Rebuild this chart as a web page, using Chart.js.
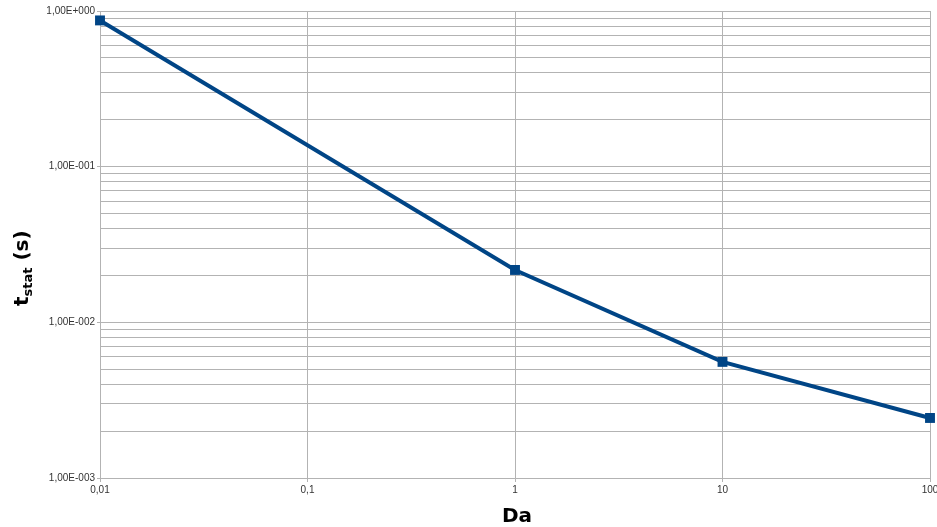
<!DOCTYPE html>
<html>
<head>
<meta charset="utf-8">
<script src="https://cdn.jsdelivr.net/npm/chart.js@4.4.0/dist/chart.umd.min.js"></script>
<style>
  html, body { margin: 0; padding: 0; background: #fff; overflow: hidden; }
  #wrap { width: 937px; height: 527px; }
</style>
</head>
<body>
<div id="wrap"><canvas id="myChart" width="937" height="527"></canvas></div>
<script>
// data
const daValues = [0.01, 1, 10, 100];
const tstatValues = [0.87, 0.0217, 0.00557, 0.00243];

// axis ticks
const xTickValues = [0.01, 0.1, 1, 10, 100];
const xTickLabels = ['0,01', '0,1', '1', '10', '100'];
const yDecades = [0.001, 0.01, 0.1, 1];
const yTickLabels = ['1,00E-003', '1,00E-002', '1,00E-001', '1,00E+000'];
const yMinorSteps = [2, 3, 4, 5, 6, 7, 8, 9];

const lineColor = '#004586';
const gridColor = '#b3b3b3';

// y gridlines: decades plus the 2..9 in between
const yGrid = [];
yDecades.forEach((d, i) => {
    yGrid.push({ value: d, major: true });
    if (i < yDecades.length - 1) {
        yMinorSteps.forEach(m => yGrid.push({ value: d * m, major: false }));
    }
});

const axisTitles = {
    id: 'axisTitles',
    afterDraw(chart) {
        const ctx = chart.ctx;
        ctx.save();
        ctx.fillStyle = '#000';
        ctx.textBaseline = 'alphabetic';

        // x title
        ctx.font = 'bold 20px "DejaVu Sans"';
        ctx.textAlign = 'center';
        ctx.fillText('Da', 517, 522);

        // y title, rotated, with subscript
        ctx.translate(28, 306);
        ctx.rotate(-Math.PI / 2);
        ctx.textAlign = 'left';
        ctx.font = 'bold 20px "DejaVu Sans"';
        ctx.fillText('t', 0, 0);
        let x = ctx.measureText('t').width;
        ctx.font = 'bold 13px "DejaVu Sans"';
        ctx.fillText('stat', x, 4);
        x += ctx.measureText('stat').width;
        ctx.font = 'bold 20px "DejaVu Sans"';
        ctx.fillText(' (s)', x, 0);
        ctx.restore();
    }
};

const ctx = document.getElementById('myChart').getContext('2d');
const First_chart = new Chart(ctx, {
    type: 'line',
    data: {
        datasets: [{
            label: 'tstat',
            data: daValues.map((v, i) => ({ x: v, y: tstatValues[i] })),
            borderColor: lineColor,
            backgroundColor: lineColor,
            borderWidth: 4,
            pointStyle: 'rect',
            pointRadius: 7,
            pointBorderWidth: 0,
            pointHoverRadius: 7,
            clip: false,
            tension: 0
        }]
    },
    options: {
        responsive: false,
        animation: false,
        events: [],
        layout: { padding: { top: 11, left: 0, right: 4, bottom: 0 } },
        plugins: {
            legend: { display: false },
            tooltip: { enabled: false }
        },
        scales: {
            x: {
                type: 'logarithmic',
                min: 0.01,
                max: 100,
                afterBuildTicks: scale => {
                    scale.ticks = xTickValues.map(v => ({ value: v, major: true }));
                },
                afterFit: scale => {
                    scale.height = 49;
                    scale.paddingLeft = 0;
                    scale.paddingRight = 0;
                },
                grid: { color: gridColor, tickColor: gridColor, tickLength: 4, lineWidth: 1 },
                border: { color: gridColor },
                ticks: {
                    autoSkip: false,
                    maxRotation: 0,
                    padding: 2,
                    color: '#333',
                    font: { family: '"Liberation Sans"', size: 10 },
                    callback: (v) => {
                        const i = xTickValues.findIndex(t => Math.abs(t - v) < t * 1e-6);
                        return i >= 0 ? xTickLabels[i] : null;
                    }
                }
            },
            y: {
                type: 'logarithmic',
                min: 0.001,
                max: 1,
                afterBuildTicks: scale => {
                    scale.ticks = yGrid.map(t => ({ value: t.value, major: t.major }));
                },
                afterFit: scale => {
                    scale.width = 100;
                    scale.paddingTop = 0;
                    scale.paddingBottom = 0;
                },
                grid: {
                    color: gridColor,
                    tickColor: c => (c.tick && c.tick.major) ? gridColor : 'rgba(0,0,0,0)',
                    tickLength: 3,
                    lineWidth: 1
                },
                border: { color: gridColor },
                ticks: {
                    autoSkip: false,
                    padding: 2,
                    color: '#333',
                    font: { family: '"Liberation Sans"', size: 10 },
                    callback: (v) => {
                        const i = yDecades.findIndex(t => Math.abs(t - v) < t * 1e-6);
                        return i >= 0 ? yTickLabels[i] : '';
                    }
                }
            }
        }
    },
    plugins: [axisTitles]
});
console.log("Loaded");
</script>
</body>
</html>
